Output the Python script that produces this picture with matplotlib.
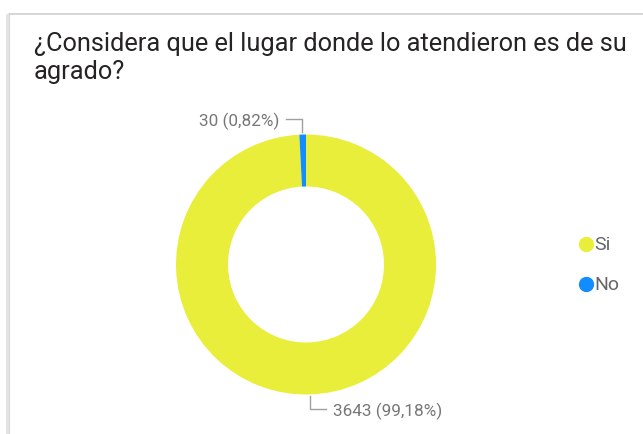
import matplotlib.pyplot as plt
from matplotlib.patches import Rectangle

W, H = 643, 435
categories = ['Si', 'No']
values = [3643, 30]
colors = ['#E8EE3A', '#118DFF']
title = '¿Considera que el lugar donde lo atendieron es de su\nagrado?'

plt.rcParams['font.family'] = ['Roboto', 'DejaVu Sans']

fig = plt.figure(figsize=(W / 100, H / 100), dpi=100)
fig.patch.set_facecolor('white')

def fx(x):
    return x / W

def fy(y):
    return 1 - y / H

# card border / shadow
fig.patches.append(Rectangle((fx(9), fy(H + 5)), fx(W), (H - 10) / H, transform=fig.transFigure,
                             facecolor='white', edgecolor='#d0d0d0', linewidth=1.2, zorder=-5))
fig.patches.append(Rectangle((fx(6), fy(H + 5)), fx(3), (H - 10) / H, transform=fig.transFigure,
                             facecolor='#e4e4e4', edgecolor='none', zorder=-5))

fig.text(fx(34), fy(32), title, fontsize=18.3, color='#252423', va='top', ha='left', linespacing=1.22)

cx, cy, r = 306, 265.5, 130
ax = fig.add_axes([fx(cx - r), fy(cy + r), 2 * r / W, 2 * r / H])
ax.pie(values, colors=colors, startangle=90, counterclock=False, radius=1,
       wedgeprops=dict(width=0.4, edgecolor='none'))
ax.set_xlim(-1, 1)
ax.set_ylim(-1, 1)
ax.set_aspect('auto')
ax.axis('off')

total = sum(values)
def lbl(v):
    return '%d (%s%%)' % (v, ('%.2f' % (100 * v / total)).replace('.', ','))

line_c = '#a0a0a0'
fig.add_artist(plt.Line2D([fx(286), fx(302), fx(302)], [fy(120), fy(120), fy(133)],
                          transform=fig.transFigure, color=line_c, lw=1))
fig.text(fx(279), fy(121), lbl(values[1]), ha='right', va='center', fontsize=12.3, color='#777777')
fig.add_artist(plt.Line2D([fx(310), fx(310), fx(326)], [fy(397), fy(410), fy(410)],
                          transform=fig.transFigure, color=line_c, lw=1))
fig.text(fx(333), fy(411), lbl(values[0]), ha='left', va='center', fontsize=12.3, color='#777777')

for i, (c, col) in enumerate(zip(categories, colors)):
    yy = 245 + 40 * i
    fig.add_artist(plt.Line2D([fx(586)], [fy(yy)], transform=fig.transFigure, marker='o',
                              markersize=10, color=col, linestyle='none'))
    fig.text(fx(594), fy(yy), c, ha='left', va='center', fontsize=14, color='#666666')

fig.savefig('out.png', dpi=100, facecolor='white')
